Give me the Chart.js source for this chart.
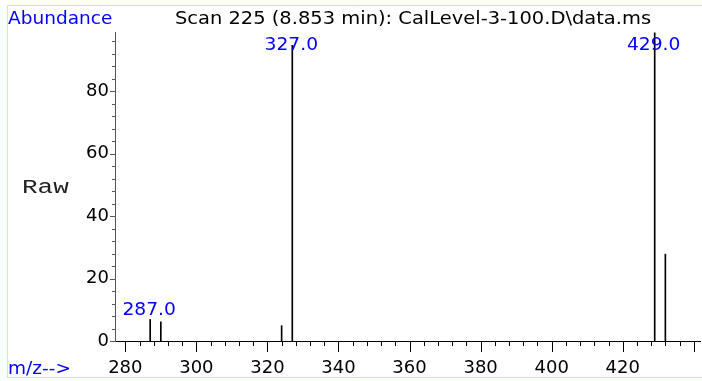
<!DOCTYPE html>
<html>
<head>
<meta charset="utf-8">
<script src="https://cdn.jsdelivr.net/npm/chart.js@4"></script>
<style>
  html, body { margin: 0; padding: 0; background: #fff; }
  #wrap { width: 702px; height: 381px; }
</style>
</head>
<body>
<div id="wrap"><canvas id="chartMs" width="702" height="381"></canvas></div>
<script>
// spectrum values
const mzValues = [287, 290, 324, 327, 429, 432];
const abundance = [6.9, 6.1, 4.9, 94.6, 98.6, 27.8];
const peakLabels = ['287.0', '327.0', '429.0'];
const labelledMz = [287, 327, 429];
const xTicks = [280, 284, 288, 292, 296, 300, 304, 308, 312, 316, 320, 324, 328, 332, 336, 340,
  344, 348, 352, 356, 360, 364, 368, 372, 376, 380, 384, 388, 392, 396, 400, 404, 408, 412,
  416, 420, 424, 428, 432, 436, 440];
const xLabels = [280, 300, 320, 340, 360, 380, 400, 420];
const yTicks = [0, 20, 40, 60, 80];
const title = 'Scan 225 (8.853 min): CalLevel-3-100.D\\data.ms';

const FONT = 'DejaVu Sans';

function stretchText(ctx, txt, x, y, font, color, sx, align) {
  ctx.save();
  ctx.font = font;
  ctx.fillStyle = color;
  ctx.textBaseline = 'alphabetic';
  const w = ctx.measureText(txt).width * sx;
  let left = x;
  if (align === 'center') left = x - w / 2;
  ctx.translate(left, y);
  ctx.scale(sx, 1);
  ctx.textAlign = 'left';
  ctx.fillText(txt, 0, 0);
  ctx.restore();
}

const decor = {
  id: 'decor',
  afterDraw(chart) {
    const ctx = chart.ctx;
    const xs = chart.scales.x;
    const ys = chart.scales.y;
    const area = chart.chartArea;

    // light green frame
    ctx.save();
    ctx.strokeStyle = '#b8f3b8';
    ctx.lineWidth = 1;
    ctx.beginPath();
    ctx.moveTo(702, 5.5); ctx.lineTo(7.5, 5.5); ctx.lineTo(7.5, 377.5); ctx.lineTo(702, 377.5);
    ctx.stroke();

    // x ticks
    ctx.strokeStyle = '#000';
    ctx.beginPath();
    xTicks.forEach(v => {
      const px = Math.round(xs.getPixelForValue(v)) + 0.5;
      const len = v % 20 === 0 ? 11 : 5;
      ctx.moveTo(px, area.bottom);
      ctx.lineTo(px, area.bottom + len);
    });
    ctx.stroke();

    // y ticks
    ctx.strokeStyle = '#555';
    ctx.beginPath();
    for (let v = 0; v <= 96; v += 4) {
      const py = Math.round(ys.getPixelForValue(v)) + 0.5;
      const len = v % 20 === 0 ? 5 : 3;
      ctx.moveTo(area.left, py);
      ctx.lineTo(area.left - len, py);
    }
    ctx.stroke();
    ctx.restore();

    // texts
    stretchText(ctx, 'Abundance', 8, 24, '17px "' + FONT + '"', '#0000ff', 1.09, 'left');
    stretchText(ctx, title, 413, 24, '17px "' + FONT + '"', '#000', 1.145, 'center');
    stretchText(ctx, 'm/z-->', 8, 374, '17px "' + FONT + '"', '#0000ff', 1.09, 'left');
    stretchText(ctx, 'Raw', 22, 193, '20px "Liberation Mono"', '#222', 1.3, 'left');

    labelledMz.forEach((m, i) => {
      const idx = mzValues.indexOf(m);
      const px = xs.getPixelForValue(m);
      const py = ys.getPixelForValue(abundance[idx]);
      const base = Math.max(py - 4, 50);
      stretchText(ctx, peakLabels[i], px - 1, base, '17px "' + FONT + '"', '#0000ff', 1.1, 'center');
    });
  }
};

const ctxMs = document.getElementById('chartMs').getContext('2d');
const chartMs = new Chart(ctxMs, {
  type: 'bar',
  data: {
    datasets: [{
      label: '',
      data: mzValues.map((m, i) => ({ x: m, y: abundance[i] })),
      backgroundColor: '#000',
      barThickness: 1,
      borderWidth: 0
    }]
  },
  options: {
    responsive: false,
    animation: false,
    events: [],
    layout: { padding: { top: 32, right: 2, left: 0, bottom: 0 } },
    plugins: {
      legend: { display: false },
      tooltip: { enabled: false }
    },
    scales: {
      x: {
        type: 'linear',
        offset: false,
        min: 277.1,
        max: 441.75,
        afterBuildTicks: s => { s.ticks = xLabels.map(v => ({ value: v })); },
        afterFit: s => { s.height = 40; },
        grid: { display: false, drawTicks: false, offset: false },
        border: { display: true, color: '#000', width: 1 },
        ticks: {
          autoSkip: false,
          maxRotation: 0,
          padding: 17,
          color: '#000',
          font: { family: FONT, size: 18 }
        }
      },
      y: {
        min: 0,
        max: 98.9,
        afterBuildTicks: s => { s.ticks = yTicks.map(v => ({ value: v })); },
        afterFit: s => { s.width = 115; },
        grid: { display: false, drawTicks: false },
        border: { display: true, color: '#555', width: 1 },
        ticks: {
          padding: 6,
          color: '#000',
          font: { family: FONT, size: 18 }
        }
      }
    }
  },
  plugins: [decor]
});
</script>
</body>
</html>
